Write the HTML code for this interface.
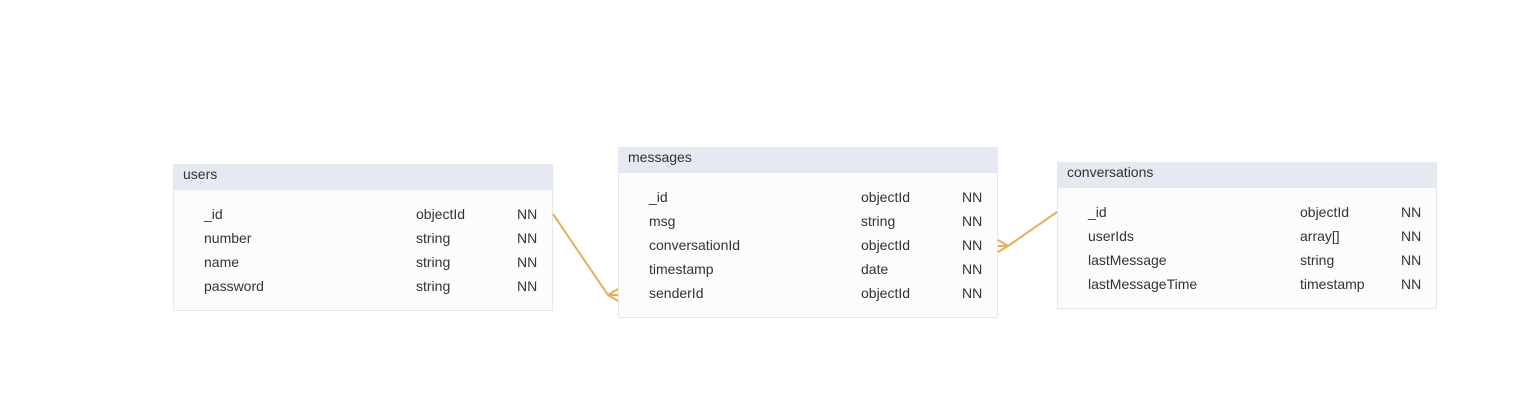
<!DOCTYPE html>
<html><head><style>
body{margin:0;width:1537px;height:418px;background:#fff;position:relative;font-family:"Liberation Sans",Arial,sans-serif;font-size:14px;color:#333;overflow:hidden}
.t{position:absolute;width:380px;background:#fcfcfc;border:1px solid #e6e7ec;box-sizing:border-box}
.h{height:25px;background:#e4e9f2;line-height:18px;padding-left:9px}
.r{position:absolute;height:24px;line-height:22px;white-space:nowrap}
svg{position:absolute;left:0;top:0}
</style></head><body>
<div class="t" style="left:173px;top:164px;height:147px"><div class="h">users</div>
<div class="r" style="left:30px;top:38px">_id</div><div class="r" style="left:242px;top:38px">objectId</div><div class="r" style="left:343px;top:38px">NN</div>
<div class="r" style="left:30px;top:62px">number</div><div class="r" style="left:242px;top:62px">string</div><div class="r" style="left:343px;top:62px">NN</div>
<div class="r" style="left:30px;top:86px">name</div><div class="r" style="left:242px;top:86px">string</div><div class="r" style="left:343px;top:86px">NN</div>
<div class="r" style="left:30px;top:110px">password</div><div class="r" style="left:242px;top:110px">string</div><div class="r" style="left:343px;top:110px">NN</div>
</div>
<div class="t" style="left:618px;top:147px;height:171px"><div class="h">messages</div>
<div class="r" style="left:30px;top:38px">_id</div><div class="r" style="left:242px;top:38px">objectId</div><div class="r" style="left:343px;top:38px">NN</div>
<div class="r" style="left:30px;top:62px">msg</div><div class="r" style="left:242px;top:62px">string</div><div class="r" style="left:343px;top:62px">NN</div>
<div class="r" style="left:30px;top:86px">conversationId</div><div class="r" style="left:242px;top:86px">objectId</div><div class="r" style="left:343px;top:86px">NN</div>
<div class="r" style="left:30px;top:110px">timestamp</div><div class="r" style="left:242px;top:110px">date</div><div class="r" style="left:343px;top:110px">NN</div>
<div class="r" style="left:30px;top:134px">senderId</div><div class="r" style="left:242px;top:134px">objectId</div><div class="r" style="left:343px;top:134px">NN</div>
</div>
<div class="t" style="left:1057px;top:162px;height:147px"><div class="h">conversations</div>
<div class="r" style="left:30px;top:38px">_id</div><div class="r" style="left:242px;top:38px">objectId</div><div class="r" style="left:343px;top:38px">NN</div>
<div class="r" style="left:30px;top:62px">userIds</div><div class="r" style="left:242px;top:62px">array[]</div><div class="r" style="left:343px;top:62px">NN</div>
<div class="r" style="left:30px;top:86px">lastMessage</div><div class="r" style="left:242px;top:86px">string</div><div class="r" style="left:343px;top:86px">NN</div>
<div class="r" style="left:30px;top:110px">lastMessageTime</div><div class="r" style="left:242px;top:110px">timestamp</div><div class="r" style="left:343px;top:110px">NN</div>
</div>
<svg width="1537" height="418"><g stroke="#eaac5a" stroke-width="2" fill="none">
<path d="M553 214 L608 295 L618 295 M608 295 L618 289 M608 295 L618 301"/>
<path d="M1057 212 L1008 246 L998 246 M1008 246 L998 240 M1008 246 L998 252"/>
</g></svg>
</body></html>
